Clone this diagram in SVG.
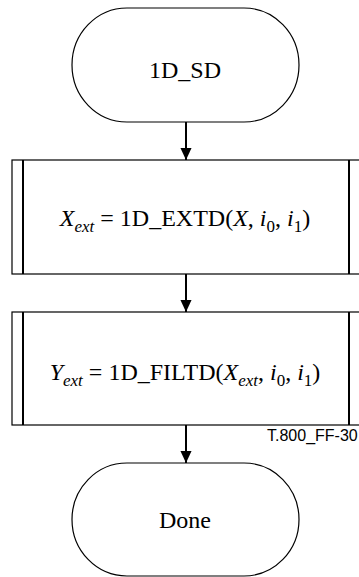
<svg xmlns="http://www.w3.org/2000/svg" width="359" height="577" viewBox="0 0 359 577">
<style>
.term{fill:#fff;stroke:#000;stroke-width:1.2}
.box{fill:#fff;stroke:#000;stroke-width:1.2}
.bar{stroke:#000;stroke-width:2}
.lbl{font-family:"Liberation Serif","Times New Roman",serif;font-size:24px;fill:#000}
.it{font-style:italic}
.sub{font-size:17px}
.conn{stroke:#000;stroke-width:2;fill:none}
.tag{font-family:"Liberation Sans",Arial,sans-serif;font-size:16px;fill:#000}
</style>
<defs>
<marker id="arr" markerWidth="12" markerHeight="13" refX="13" refY="6" orient="auto" markerUnits="userSpaceOnUse" viewBox="0 0 13 12">
<path d="M0,0 L13,6 L0,12 Z" fill="#000"/>
</marker>
</defs>
<g id="connectors">
<line class="conn" x1="186" y1="122" x2="186" y2="160" marker-end="url(#arr)"/>
<line class="conn" x1="186" y1="274" x2="186" y2="312" marker-end="url(#arr)"/>
<line class="conn" x1="186" y1="425" x2="186" y2="463" marker-end="url(#arr)"/>
</g>
<g id="start">
<rect class="term" x="72" y="8" width="227" height="114" rx="55" ry="57"/>
<text class="lbl" x="185" y="78" text-anchor="middle">1D_SD</text>
</g>
<g id="extd">
<rect class="box" x="12" y="160" width="348" height="114"/>
<line class="bar" x1="23" y1="160" x2="23" y2="274"/>
<line class="bar" x1="349" y1="160" x2="349" y2="274"/>
<text class="lbl" x="185" y="226" text-anchor="middle"><tspan class="it">X</tspan><tspan class="it sub" dy="6">ext</tspan><tspan dy="-6"> = 1D_EXTD(</tspan><tspan class="it">X</tspan>, <tspan class="it">i</tspan><tspan class="sub" dy="6">0</tspan><tspan dy="-6">, </tspan><tspan class="it">i</tspan><tspan class="sub" dy="6">1</tspan><tspan dy="-6">)</tspan></text>
</g>
<g id="filtd">
<rect class="box" x="12" y="312" width="348" height="113"/>
<line class="bar" x1="23" y1="312" x2="23" y2="425"/>
<line class="bar" x1="349" y1="312" x2="349" y2="425"/>
<text class="lbl" x="185" y="380" text-anchor="middle"><tspan class="it">Y</tspan><tspan class="it sub" dy="6">ext</tspan><tspan dy="-6"> = 1D_FILTD(</tspan><tspan class="it">X</tspan><tspan class="it sub" dy="6">ext</tspan><tspan dy="-6">, </tspan><tspan class="it">i</tspan><tspan class="sub" dy="6">0</tspan><tspan dy="-6">, </tspan><tspan class="it">i</tspan><tspan class="sub" dy="6">1</tspan><tspan dy="-6">)</tspan></text>
</g>
<g id="done">
<rect class="term" x="72" y="463" width="227" height="113" rx="55" ry="56.5"/>
<text class="lbl" x="185" y="528" text-anchor="middle">Done</text>
</g>
<text class="tag" x="267" y="441">T.800_FF-30</text>
</svg>
